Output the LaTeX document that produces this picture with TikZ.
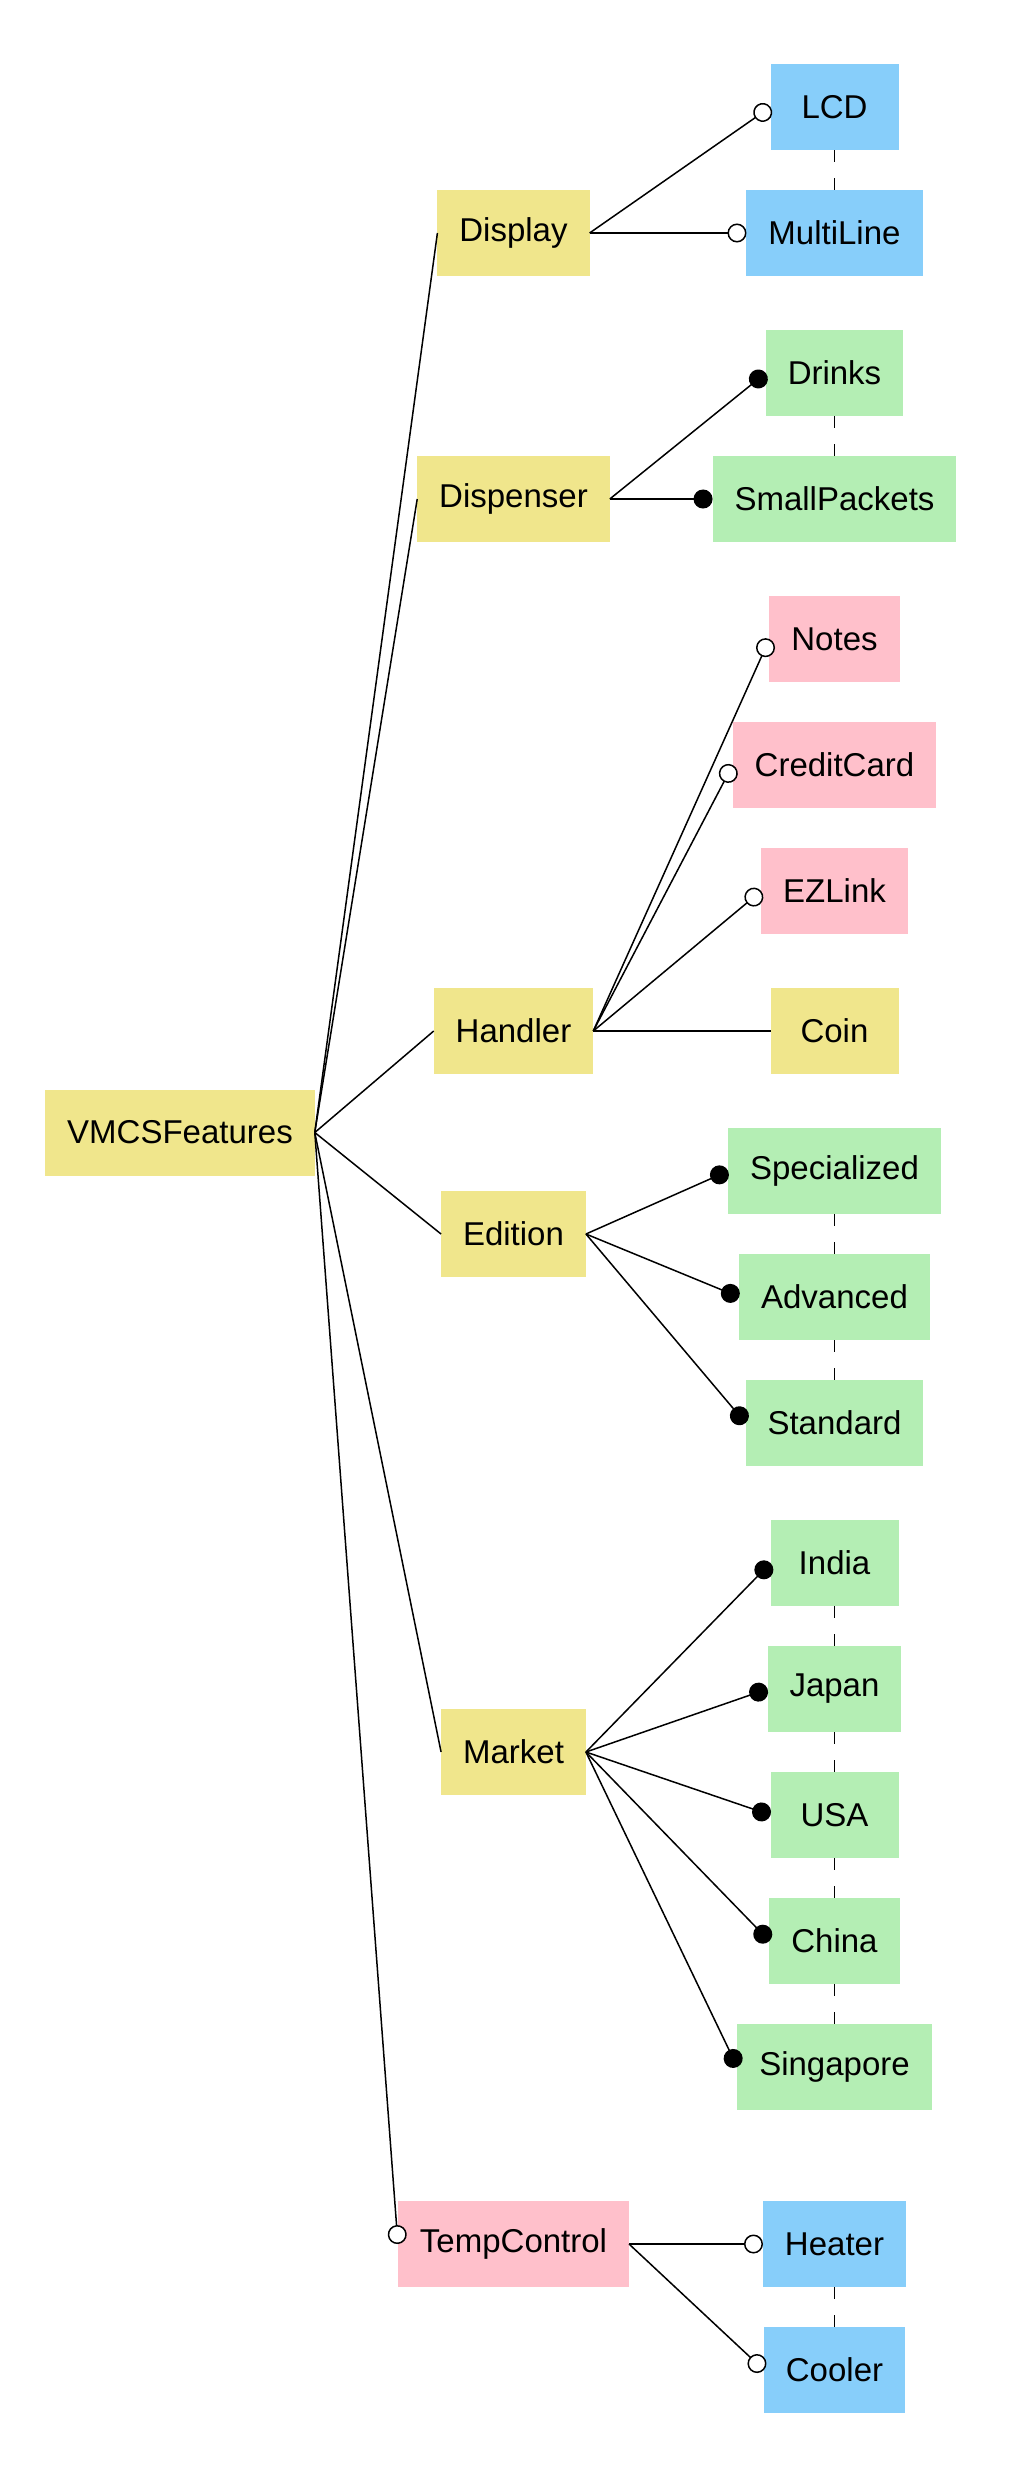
\documentclass[tikz,border=0pt]{standalone}
\usepackage{fontspec}
\setsansfont{Liberation Sans}
\usetikzlibrary{arrows.meta,positioning,calc}

\definecolor{featyellow}{HTML}{F0E68C}
\definecolor{featpink}{HTML}{FFC0CB}
\definecolor{featgreen}{HTML}{B4EEB4}
\definecolor{featblue}{HTML}{87CEFA}

\begin{document}
\begin{tikzpicture}[
  font=\sffamily\fontsize{16.5}{19}\selectfont,
  node distance=20pt,
  feature/.style={rectangle,align=center,minimum width=64pt,
    minimum height=43pt,inner xsep=11pt,inner ysep=2pt,outer sep=0pt},
  mandatory/.style={feature,fill=featyellow},
  optional/.style={feature,fill=featpink},
  alternative/.style={feature,fill=featgreen},
  orfeature/.style={feature,fill=featblue},
  link/.style={line width=0.75pt},
  optlink/.style={link,-{Circle[length=9.5pt,fill=white]}},
  altlink/.style={link,-{Circle[length=9.5pt]}},
  group/.style={line width=0.75pt,dash pattern=on 6pt off 8pt}
]
  \useasboundingbox (0,0) rectangle (510pt,-1239.5pt);

  % leaf column
  \node[orfeature] (lcd) at (417.25pt,-53.5pt) {LCD};
  \node[orfeature,below=of lcd] (multiline) {MultiLine};
  \node[alternative,below=27pt of multiline] (drinks) {Drinks};
  \node[alternative,below=of drinks] (packets) {SmallPackets};
  \node[optional,below=27pt of packets] (notes) {Notes};
  \node[optional,below=of notes] (credit) {CreditCard};
  \node[optional,below=of credit] (ezlink) {EZLink};
  \node[mandatory,below=27pt of ezlink] (coin) {Coin};
  \node[alternative,below=27pt of coin] (special) {Specialized};
  \node[alternative,below=of special] (advanced) {Advanced};
  \node[alternative,below=of advanced] (standard) {Standard};
  \node[alternative,below=27pt of standard] (india) {India};
  \node[alternative,below=of india] (japan) {Japan};
  \node[alternative,below=of japan] (usa) {USA};
  \node[alternative,below=of usa] (china) {China};
  \node[alternative,below=of china] (singapore) {Singapore};
  \node[orfeature,below=45.5pt of singapore] (heater) {Heater};
  \node[orfeature,below=of heater] (cooler) {Cooler};

  % middle column
  \coordinate (midcol) at (256.75pt,0);
  \coordinate (edmid) at ($(special)!.5!(advanced)$);
  \coordinate (mkmid) at ($(japan)!.5!(usa)$);
  \node[mandatory] (display) at (midcol |- multiline) {Display};
  \node[mandatory] (dispenser) at (midcol |- packets) {Dispenser};
  \node[mandatory] (handler) at (midcol |- coin) {Handler};
  \node[mandatory] (edition) at (midcol |- edmid) {Edition};
  \node[mandatory] (market) at (midcol |- mkmid) {Market};
  \node[optional] (tempctl) at (midcol |- heater) {TempControl};

  % root
  \coordinate (rootcol) at (90pt,0);
  \coordinate (rootmid) at ($(handler)!.5!(edition)$);
  \node[mandatory] (root) at (rootmid -| rootcol) {VMCSFeatures};

  \draw[link] (root.east) -- (display.west);
  \draw[link] (root.east) -- (dispenser.west);
  \draw[link] (root.east) -- (handler.west);
  \draw[link] (root.east) -- (edition.west);
  \draw[link] (root.east) -- (market.west);
  \draw[optlink] (root.east) -- (tempctl.west);

  \draw[optlink] (display.east) -- (lcd.west);
  \draw[optlink] (display.east) -- (multiline.west);
  \draw[altlink] (dispenser.east) -- (drinks.west);
  \draw[altlink] (dispenser.east) -- (packets.west);
  \draw[optlink] (handler.east) -- (notes.west);
  \draw[optlink] (handler.east) -- (credit.west);
  \draw[optlink] (handler.east) -- (ezlink.west);
  \draw[link] (handler.east) -- (coin.west);
  \draw[altlink] (edition.east) -- (special.west);
  \draw[altlink] (edition.east) -- (advanced.west);
  \draw[altlink] (edition.east) -- (standard.west);
  \draw[altlink] (market.east) -- (india.west);
  \draw[altlink] (market.east) -- (japan.west);
  \draw[altlink] (market.east) -- (usa.west);
  \draw[altlink] (market.east) -- (china.west);
  \draw[altlink] (market.east) -- (singapore.west);
  \draw[optlink] (tempctl.east) -- (heater.west);
  \draw[optlink] (tempctl.east) -- (cooler.west);

  % group bars
  \draw[group] (lcd) -- (multiline);
  \draw[group] (drinks) -- (packets);
  \draw[group] (special) -- (advanced);
  \draw[group] (advanced) -- (standard);
  \draw[group] (india) -- (japan);
  \draw[group] (japan) -- (usa);
  \draw[group] (usa) -- (china);
  \draw[group] (china) -- (singapore);
  \draw[group] (heater) -- (cooler);
\end{tikzpicture}
\end{document}
